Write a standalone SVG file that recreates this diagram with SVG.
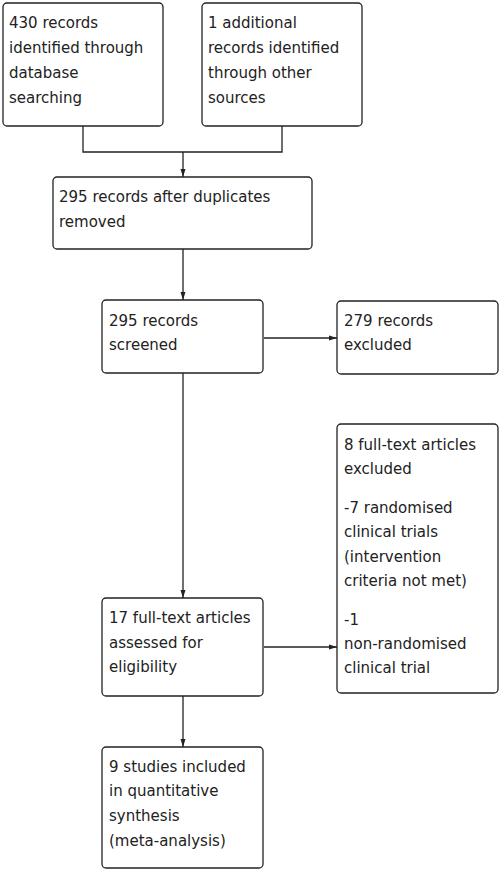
<svg xmlns="http://www.w3.org/2000/svg" width="500" height="872" viewBox="0 0 500 872">
<defs>
<style>
.box{fill:#fff;stroke:#222;stroke-width:1.3}
.t{font-family:"DejaVu Sans",Verdana,sans-serif;font-size:15px;fill:#222}
.c{fill:none;stroke:#222;stroke-width:1.3}
</style>
<marker id="ah" viewBox="0 0 8 6" refX="8" refY="3" markerWidth="8" markerHeight="6" markerUnits="userSpaceOnUse" orient="auto">
<path d="M0,0.5 L8,3 L0,5.5 Z" fill="#222"/>
</marker>
</defs>
<rect width="500" height="872" fill="#fff"/>
<g id="connectors">
<path class="c" d="M83,126 V152 H282 V126"/>
<path class="c" d="M183,152 V177" marker-end="url(#ah)"/>
<path class="c" d="M183,249 V300" marker-end="url(#ah)"/>
<path class="c" d="M264,338 H337" marker-end="url(#ah)"/>
<path class="c" d="M183,373 V598" marker-end="url(#ah)"/>
<path class="c" d="M264,647 H337" marker-end="url(#ah)"/>
<path class="c" d="M183,696 V747" marker-end="url(#ah)"/>
</g>
<g id="n1">
<rect class="box" x="3" y="3" width="160" height="123" rx="4"/>
<text class="t" x="9"><tspan x="9" y="28">430 records</tspan><tspan x="9" y="53">identified through</tspan><tspan x="9" y="78">database</tspan><tspan x="9" y="103">searching</tspan></text>
</g>
<g id="n2">
<rect class="box" x="202" y="3" width="160" height="123" rx="4"/>
<text class="t"><tspan x="208" y="28">1 additional</tspan><tspan x="208" y="53">records identified</tspan><tspan x="208" y="78">through other</tspan><tspan x="208" y="103">sources</tspan></text>
</g>
<g id="n3">
<rect class="box" x="53" y="177" width="259" height="72" rx="4"/>
<text class="t"><tspan x="59" y="202">295 records after duplicates</tspan><tspan x="59" y="227">removed</tspan></text>
</g>
<g id="n4">
<rect class="box" x="102" y="300" width="161" height="73" rx="4"/>
<text class="t"><tspan x="109" y="326">295 records</tspan><tspan x="109" y="350">screened</tspan></text>
</g>
<g id="n5">
<rect class="box" x="337" y="301" width="161" height="73" rx="4"/>
<text class="t"><tspan x="344" y="326">279 records</tspan><tspan x="344" y="350">excluded</tspan></text>
</g>
<g id="n6">
<rect class="box" x="337" y="424" width="161" height="269" rx="4"/>
<text class="t"><tspan x="344" y="450">8 full-text articles</tspan><tspan x="344" y="474">excluded</tspan><tspan x="344" y="513">-7 randomised</tspan><tspan x="344" y="537">clinical trials</tspan><tspan x="344" y="562">(intervention</tspan><tspan x="344" y="586">criteria not met)</tspan><tspan x="344" y="625">-1</tspan><tspan x="344" y="649">non-randomised</tspan><tspan x="344" y="673">clinical trial</tspan></text>
</g>
<g id="n7">
<rect class="box" x="102" y="598" width="161" height="98" rx="4"/>
<text class="t"><tspan x="109" y="623">17 full-text articles</tspan><tspan x="109" y="648">assessed for</tspan><tspan x="109" y="672">eligibility</tspan></text>
</g>
<g id="n8">
<rect class="box" x="102" y="747" width="161" height="121" rx="4"/>
<text class="t"><tspan x="109" y="772">9 studies included</tspan><tspan x="109" y="796">in quantitative</tspan><tspan x="109" y="821">synthesis</tspan><tspan x="109" y="846">(meta-analysis)</tspan></text>
</g>
</svg>
